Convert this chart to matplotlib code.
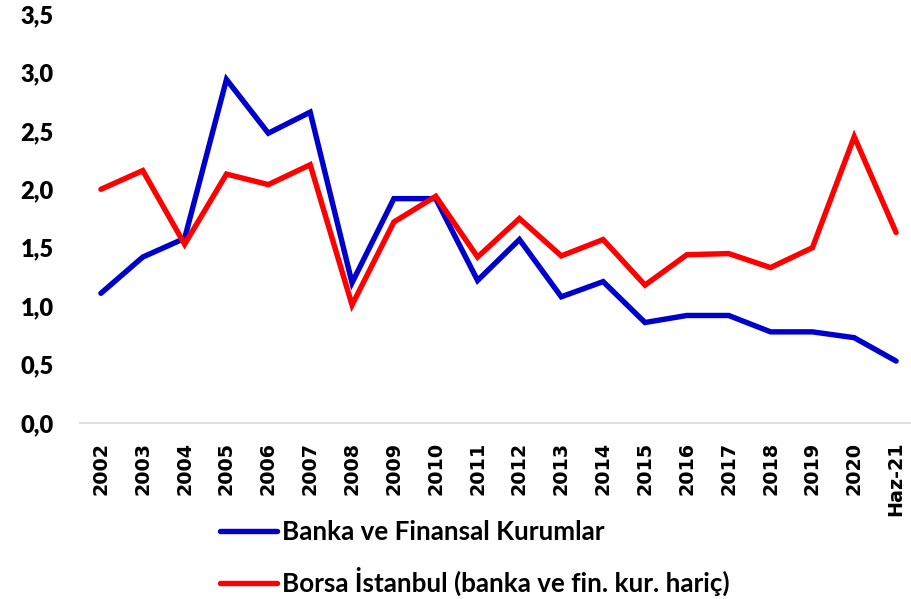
import matplotlib
matplotlib.use('Agg')
import matplotlib.pyplot as plt
from matplotlib.ticker import FuncFormatter

years = ['2002', '2003', '2004', '2005', '2006', '2007', '2008', '2009',
         '2010', '2011', '2012', '2013', '2014', '2015', '2016', '2017',
         '2018', '2019', '2020', 'Haz-21']
banka = [1.11, 1.42, 1.58, 2.94, 2.48, 2.66, 1.20, 1.92, 1.92, 1.22,
         1.57, 1.08, 1.21, 0.86, 0.92, 0.92, 0.78, 0.78, 0.73, 0.53]
borsa = [2.00, 2.16, 1.53, 2.13, 2.04, 2.21, 1.01, 1.72, 1.94, 1.42,
         1.75, 1.43, 1.57, 1.18, 1.44, 1.45, 1.33, 1.50, 2.45, 1.63]
labels = ['Banka ve Finansal Kurumlar',
          'Borsa İstanbul (banka ve fin. kur. hariç)']

fig = plt.figure(figsize=(9.12, 5.99), dpi=100)
ax = fig.add_axes([80 / 912, 1 - 423 / 599, 1 - 80 / 912, (423 - 14) / 599])

x = list(range(len(years)))
ax.plot(x, banka, color='#0000CC', lw=3.9, solid_capstyle='round',
        solid_joinstyle='miter', label=labels[0])
ax.plot(x, borsa, color='#FF0000', lw=3.9, solid_capstyle='round',
        solid_joinstyle='miter', label=labels[1])

ax.set_xlim(-0.5, 19.38)
ax.set_ylim(0, 3.5)
ax.set_yticks([0, 0.5, 1.0, 1.5, 2.0, 2.5, 3.0, 3.5])
ax.yaxis.set_major_formatter(
    FuncFormatter(lambda v, p: f'{v:.1f}'.replace('.', ',')))
ax.set_xticks(x)
ax.set_xticklabels(years, rotation=90, fontfamily='DejaVu Sans',
                   fontweight='bold', fontsize=13.8)
for t in ax.get_yticklabels():
    t.set_fontfamily(['Lato', 'DejaVu Sans'])
    t.set_fontweight('heavy')
    t.set_fontsize(17)

ax.tick_params(axis='x', length=0, pad=13.5)
ax.tick_params(axis='y', length=0, pad=19)
for s in ['top', 'right', 'left']:
    ax.spines[s].set_visible(False)
ax.spines['bottom'].set_color('#D9D9D9')
ax.spines['bottom'].set_linewidth(1.2)

# legend below the axis, two stacked entries, no frame
leg = fig.legend(loc='center left', bbox_to_anchor=(220 / 912, 1 - 558 / 599),
                 frameon=False, borderpad=0, borderaxespad=0,
                 handlelength=2.2, handletextpad=0.2, labelspacing=0.9,
                 prop={'family': ['Lato', 'DejaVu Sans'], 'weight': 'bold',
                       'size': 18.7})

fig.savefig('out.png', dpi=100)
